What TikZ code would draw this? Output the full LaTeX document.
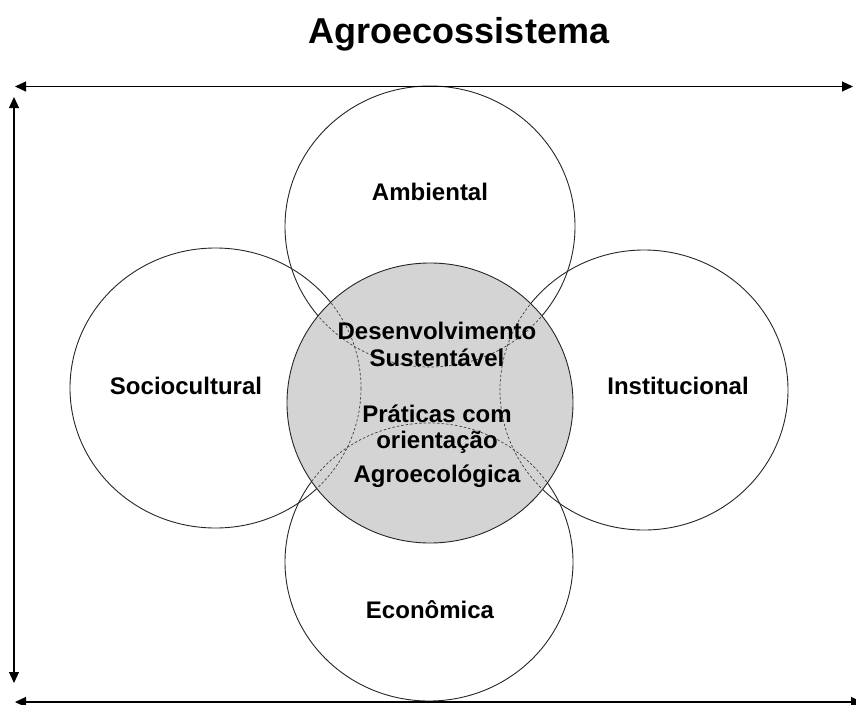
\documentclass[tikz,border=0pt]{standalone}
\usepackage{fontspec}
\setmainfont{Liberation Sans}
\usetikzlibrary{arrows.meta}
\begin{document}
\begin{tikzpicture}[x=1pt,y=-1pt,
  ring/.style={draw=black!85, line width=0.9pt},
  hidden/.style={draw=black!75, line width=0.7pt, dash pattern=on 2.5pt off 2pt},
  core/.style={fill=black!17, draw=black!85, line width=0.9pt},
  label/.style={font=\bfseries\fontsize{24}{28}\selectfont, anchor=base, inner sep=0pt},
  heading/.style={font=\bfseries\fontsize{36}{40}\selectfont, anchor=base, inner sep=0pt},
  span/.style={line width=1.1pt, {Triangle[length=11pt,width=10pt]}-{Triangle[length=11pt,width=10pt]}}]
\useasboundingbox (0,0) rectangle (856,704);

% outer dimensions
\draw[ring] (430,226.5) ellipse [x radius=145, y radius=140.5];
\draw[ring] (215.5,388) ellipse [x radius=145.5, y radius=140];
\draw[ring] (644,390) ellipse [x radius=144, y radius=140];
\draw[ring] (429,562) ellipse [x radius=144, y radius=139];

% central disc
\draw[core] (430,403) ellipse [x radius=143, y radius=140];

% outer circles seen through the central disc
\begin{scope}
  \clip (430,403) ellipse [x radius=142, y radius=139];
  \draw[hidden] (430,226.5) ellipse [x radius=145, y radius=140.5];
  \draw[hidden] (215.5,388) ellipse [x radius=145.5, y radius=140];
  \draw[hidden] (644,390) ellipse [x radius=144, y radius=140];
  \draw[hidden] (429,562) ellipse [x radius=144, y radius=139];
\end{scope}

% frame arrows
\coordinate (topL) at (15,86.5);
\coordinate (topR) at (853,86.5);
\coordinate (sideT) at (14,97);
\coordinate (sideB) at (14,683);
\coordinate (botL) at (15,702);
\coordinate (botR) at (862,702);
\draw[span] (topL) -- (topR);
\draw[span] (sideT) -- (sideB);
\draw[span] (botL) -- (botR);

% labels
\node[heading] (title) at (459,43) {Agroecossistema};
\node[label] (amb) at (430,200) {Ambiental};
\node[label] (soc) at (186,394) {Sociocultural};
\node[label] (inst) at (678,394) {Institucional};
\node[label] (eco) at (430,618) {Econômica};
\node[label] (d1) at (437,339) {Desenvolvimento};
\node[label] (d2) at (437,366) {Sustentável};
\node[label] (p1) at (437,422) {Práticas com};
\node[label] (p2) at (437,448) {orientação};
\node[label] (p3) at (437,482) {Agroecológica};
\end{tikzpicture}
\end{document}
